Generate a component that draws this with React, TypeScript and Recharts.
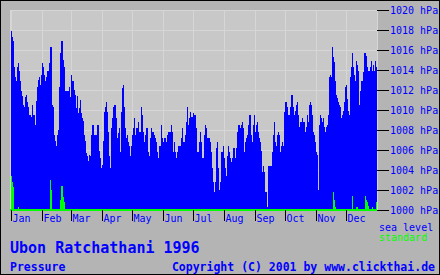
import { Area, AreaChart, CartesianGrid, XAxis, YAxis } from "recharts";

const months = ["Jan", "Feb", "Mar", "Apr", "May", "Jun", "Jul", "Aug", "Sep", "Oct", "Nov", "Dec"];
// day index (0 = 1 Jan 1996) where each month starts
const monthStarts = [0, 31, 60, 91, 121, 152, 182, 213, 244, 274, 305, 335];
const pressureTicks = [1000, 1002, 1004, 1006, 1008, 1010, 1012, 1014, 1016, 1018, 1020];

// daily sea level pressure, hPa
const seaJan = [
  1017.9, 1017.3, 1016.9, 1014.3, 1013.3, 1012.9, 1014.3, 1014.7, 1013.9, 1012.9, 1011.9, 1011.4, 1010.5, 1010.3, 1011.3, 1011.5,
  1010.8, 1010.3, 1009.5, 1009.5, 1009.3, 1010.5, 1009.5, 1009.5, 1008.5, 1010.9, 1012.3, 1013.0, 1013.3, 1012.5, 1013.5,
];
const seaFeb = [
  1014.7, 1014.3, 1013.5, 1012.9, 1013.3, 1013.9, 1013.9, 1014.7, 1016.3, 1016.3, 1010.5, 1010.3, 1007.5, 1006.9, 1006.4,
  1007.5, 1008.0, 1012.3, 1015.7, 1016.9, 1016.9, 1015.0, 1014.3, 1011.9, 1011.9, 1011.9, 1011.9, 1012.3, 1011.3,
];
const seaMar = [
  1013.5, 1012.9, 1012.9, 1012.0, 1011.5, 1010.2, 1011.4, 1009.7, 1010.2, 1011.0, 1009.7, 1009.2, 1008.9, 1007.5, 1006.9, 1005.7,
  1005.4, 1004.9, 1005.5, 1005.4, 1007.5, 1008.5, 1008.5, 1007.5, 1007.5, 1007.5, 1008.5, 1008.5, 1005.9, 1005.2, 1004.2,
];
const seaApr = [
  1004.5, 1006.9, 1009.8, 1010.3, 1010.8, 1009.8, 1007.8, 1005.4, 1004.2, 1008.2, 1009.2, 1010.3, 1010.5, 1010.5, 1009.2,
  1007.2, 1007.7, 1008.2, 1005.8, 1009.8, 1012.2, 1012.5, 1010.3, 1008.2, 1007.2, 1007.5, 1006.8, 1006.4, 1005.4, 1006.4,
];
const seaMay = [
  1007.5, 1008.2, 1009.2, 1007.5, 1008.2, 1008.2, 1008.8, 1007.8, 1007.8, 1010.3, 1009.5, 1007.8, 1006.8, 1007.5, 1008.2, 1008.2,
  1005.8, 1005.4, 1007.2, 1008.2, 1007.8, 1007.8, 1007.5, 1007.2, 1006.8, 1005.8, 1005.2, 1006.4, 1006.4, 1008.5, 1007.2,
];
const seaJun = [
  1006.8, 1007.2, 1007.2, 1006.8, 1007.5, 1007.8, 1007.8, 1007.8, 1008.5, 1007.8, 1005.8, 1006.8, 1005.8, 1005.2, 1005.8,
  1006.4, 1006.4, 1006.4, 1007.2, 1008.2, 1006.8, 1006.8, 1007.5, 1008.8, 1010.3, 1008.5, 1009.2, 1009.8, 1009.3, 1009.3,
];
const seaJul = [
  1009.7, 1009.5, 1009.5, 1008.2, 1005.8, 1005.8, 1006.8, 1007.8, 1006.8, 1005.2, 1005.2, 1007.5, 1008.5, 1008.2, 1007.2, 1007.2,
  1007.2, 1006.8, 1005.8, 1004.2, 1002.8, 1001.8, 1002.8, 1006.2, 1006.8, 1004.2, 1002.0, 1002.8, 1005.8, 1005.8, 1006.4,
];
const seaAug = [
  1005.2, 1004.2, 1003.4, 1005.4, 1006.4, 1005.8, 1005.2, 1004.8, 1005.2, 1006.2, 1006.2, 1005.2, 1006.2, 1007.8, 1008.5, 1008.5,
  1008.2, 1008.5, 1008.8, 1008.2, 1005.8, 1006.8, 1007.2, 1007.5, 1008.5, 1009.5, 1009.5, 1007.5, 1006.8, 1008.5, 1009.5,
];
const seaSep = [
  1007.8, 1008.5, 1008.8, 1007.8, 1007.2, 1006.8, 1005.9, 1003.8, 1004.4, 1003.8, 1001.8, 1001.8, 1000.3, 1004.4, 1004.4,
  1004.4, 1004.4, 1005.8, 1007.5, 1008.8, 1006.8, 1006.4, 1007.5, 1007.8, 1007.5, 1005.8, 1006.4, 1006.8, 1006.4, 1009.8,
];
const seaOct = [
  1010.8, 1010.8, 1010.3, 1009.5, 1009.5, 1010.3, 1011.5, 1011.5, 1010.3, 1009.5, 1009.9, 1010.5, 1010.8, 1009.5, 1008.3, 1008.8,
  1008.8, 1009.2, 1008.8, 1008.8, 1007.8, 1008.3, 1009.5, 1008.8, 1010.5, 1010.8, 1010.5, 1009.5, 1007.8, 1007.5, 1006.8,
];
const seaNov = [
  1005.8, 1005.5, 1002.0, 1008.5, 1009.5, 1009.2, 1008.8, 1009.2, 1008.3, 1007.8, 1008.3, 1008.5, 1009.5, 1013.3, 1013.5,
  1013.3, 1016.3, 1015.3, 1014.8, 1012.9, 1011.5, 1011.2, 1010.8, 1010.5, 1010.3, 1009.2, 1009.5, 1009.9, 1010.8, 1012.3,
];
const seaDec = [
  1012.5, 1011.1, 1009.9, 1009.5, 1013.3, 1014.3, 1015.7, 1014.3, 1013.5, 1012.9, 1014.9, 1014.5, 1013.9, 1010.5, 1011.9, 1012.9,
  1012.9, 1013.8, 1015.7, 1015.7, 1015.4, 1014.3, 1013.9, 1013.9, 1014.3, 1014.9, 1013.9, 1014.5, 1013.9, 1014.9, 1014.3,
];

// "standard" pressure only shows above the 1000 hPa floor on these days
const standardDays = [0, 1, 2, 7, 39, 40, 49, 50, 51, 52, 53, 322, 323, 324, 341, 345, 346, 354, 355, 356, 357, 361, 365];
const standardValues = [
  1003.4, 1002.8, 1002.3, 1000.3, 1003.0, 1002.0, 1001.0, 1002.4, 1002.4, 1001.3, 1000.8, 1001.8, 1001.0, 1000.3, 1001.4,
  1000.3, 1000.3, 1001.4, 1001.0, 1000.8, 1000.4, 1000.3, 1000.8,
];

const seaLevel = [
  ...seaJan, ...seaFeb, ...seaMar, ...seaApr, ...seaMay, ...seaJun,
  ...seaJul, ...seaAug, ...seaSep, ...seaOct, ...seaNov, ...seaDec,
];

const rows: any[] = seaLevel.map((p, day) => {
  const k = standardDays.indexOf(day);
  return { day, sea: p, std: k >= 0 ? standardValues[k] : 1000 };
});
// closing point so the last day's step gets its width
rows.push({ ...rows[rows.length - 1], day: rows.length });

const BLUE = "#0000ff";
const GREEN = "#00ff00";
const MONO = "'DejaVu Sans Mono', monospace";

const MonthTick = (props: any) => {
  const { x, y, payload } = props;
  return (
    <text x={x + 1.5} y={y + 1} fill={BLUE} fontSize={10} fontFamily={MONO}>
      {months[monthStarts.indexOf(payload.value)]}
    </text>
  );
};

const App = () => {
  return (
    <div style={{ position: "absolute", left: 0, top: 0, width: 440, height: 275, background: "#b4b4b4" }}>
      <AreaChart
        width={440}
        height={275}
        data={rows}
        margin={{ top: 10, right: 1, left: 10, bottom: 51 }}
      >
        <CartesianGrid stroke="#d6d6d6" fill="#c8c8c8" fillOpacity={1} shapeRendering="crispEdges" />
        <XAxis
          dataKey="day"
          type="number"
          domain={[-1, 366]}
          ticks={monthStarts}
          interval={0}
          height={14}
          tickSize={11}
          tickMargin={0}
          axisLine={{ stroke: GREEN, strokeWidth: 2 }}
          tickLine={{ stroke: "#000", shapeRendering: "crispEdges" }}
          tick={<MonthTick />}
        />
        <YAxis
          orientation="right"
          type="number"
          domain={[1000, 1020]}
          ticks={pressureTicks}
          interval={0}
          width={62}
          tickSize={12}
          tickMargin={1}
          axisLine={false}
          tickLine={{ stroke: "#000", shapeRendering: "crispEdges" }}
          tick={{ fill: BLUE, fontSize: 10, fontFamily: MONO }}
          tickFormatter={(v: number) => `${v} hPa`}
        />
        <Area
          dataKey="sea"
          type="stepAfter"
          stroke="none"
          fill={BLUE}
          fillOpacity={1}
          shapeRendering="crispEdges"
          isAnimationActive={false}
          dot={false}
          activeDot={false}
        />
        <Area
          dataKey="std"
          type="stepAfter"
          stroke="none"
          fill={GREEN}
          fillOpacity={1}
          shapeRendering="crispEdges"
          isAnimationActive={false}
          dot={false}
          activeDot={false}
        />
      </AreaChart>
      <svg width={440} height={275} style={{ position: "absolute", left: 0, top: 0, pointerEvents: "none" }}>
        <text x={10} y={253} fill={BLUE} fontSize={15} fontWeight="bold" fontFamily={MONO}>
          Ubon Ratchathani 1996
        </text>
        <text x={10} y={271} fill={BLUE} fontSize={11.5} fontWeight="bold" fontFamily={MONO}>
          Pressure
        </text>
        <text x={435} y={271} textAnchor="end" fill={BLUE} fontSize={11.5} fontWeight="bold" fontFamily={MONO}>
          Copyright (C) 2001 by www.clickthai.de
        </text>
        <text x={379} y={231} fill={BLUE} fontSize={10} fontFamily={MONO}>
          sea level
        </text>
        <text x={379} y={241} fill={GREEN} fontSize={10} fontFamily={MONO}>
          standard
        </text>
      </svg>
      <div
        style={{
          position: "absolute",
          left: 0,
          top: 0,
          width: 440,
          height: 275,
          boxSizing: "border-box",
          border: "1px solid #000",
          pointerEvents: "none",
        }}
      />
    </div>
  );
};

export default App;
